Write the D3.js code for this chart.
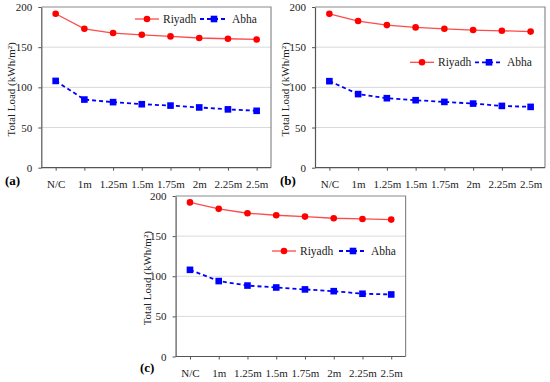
<!DOCTYPE html>
<html>
<head>
<meta charset="utf-8">
<script src="https://cdn.jsdelivr.net/npm/d3@7"></script>
<style>
html,body{margin:0;padding:0;background:#fff;}
svg{display:block;}
</style>
</head>
<body>
<svg id="chart" width="550" height="382"></svg>
<script>
const categories = ["N/C","1m","1.25m","1.5m","1.75m","2m","2.25m","2.5m"];
const yTicks = [0,50,100,150,200];
const seriesNames = ["Riyadh","Abha"];
const riyadhA = [191.6,172.9,167.6,165.4,163.4,161.4,160.5,159.6];
const abhaA   = [108.0,84.8,81.6,79.0,77.3,75.0,72.6,70.8];
const riyadhB = [191.5,182.5,177.5,174.6,172.9,171.3,170.4,169.4];
const abhaB   = [107.7,91.6,86.5,84.0,81.9,79.8,76.9,75.7];
const riyadhC = [192.0,184.0,178.5,176.0,174.3,172.3,171.4,170.6];
const abhaC   = [108.0,94.0,88.4,86.0,83.6,81.4,78.2,77.3];
const panelLabels = ["(a)","(b)","(c)"];

const FONT = "Liberation Serif, DejaVu Serif, Times New Roman, serif";

const panels = [
  {x0:41.3, x1:271, y0:7, y1:167.7, riyadh:riyadhA, abha:abhaA, label:panelLabels[0],
   labelX:5, labelY:185, titleX:11, legY:19, legR:147, legA:214},
  {x0:315, x1:545, y0:7, y1:167.7, riyadh:riyadhB, abha:abhaB, label:panelLabels[1],
   labelX:280, labelY:185, titleX:285, legY:62.3, legR:422, legA:489},
  {x0:175.6, x1:405.6, y0:196, y1:356.5, riyadh:riyadhC, abha:abhaC, label:panelLabels[2],
   labelX:140, labelY:372, titleX:147, legY:251, legR:284, legA:353}
];

const svg = d3.select("#chart").attr("font-family", FONT);
const redLine = "#ff4a4a", redMark = "#ff0000", blue = "#0000ff";

panels.forEach(p => {
  const x = d3.scalePoint().domain(categories).range([p.x0, p.x1]).padding(0.5);
  const y = d3.scaleLinear().domain([0,200]).range([p.y1, p.y0]);
  const g = svg.append("g");

  g.selectAll("line.grid").data(yTicks.filter(t => t>0 && t<200)).enter().append("line")
    .attr("x1", p.x0).attr("x2", p.x1)
    .attr("y1", d => y(d)).attr("y2", d => y(d))
    .attr("stroke", "#d9d9d9").attr("stroke-width", 1);

  g.append("path")
    .attr("d", `M${p.x0},${p.y0}H${p.x1}V${p.y1}`)
    .attr("fill","none").attr("stroke","#8a8a8a").attr("stroke-width",1.2);

  const ya = g.append("g").attr("transform", `translate(${p.x0},0)`)
    .call(d3.axisLeft(y).tickValues(yTicks).tickSize(3).tickPadding(6).tickSizeOuter(0))
    .attr("font-family", FONT).attr("font-size", 11);
  ya.select(".domain").attr("stroke","#555").attr("stroke-width",1.2);
  ya.selectAll(".tick line").attr("stroke","#555");
  ya.selectAll(".tick text").attr("fill","#222");

  const xa = g.append("g").attr("transform", `translate(0,${p.y1})`)
    .call(d3.axisBottom(x).tickSize(3).tickPadding(10).tickSizeOuter(0))
    .attr("font-family", FONT).attr("font-size", 11);
  xa.select(".domain").attr("stroke","#555").attr("stroke-width",1.2)
    .attr("d", `M${p.x0},0H${p.x1}`);
  xa.selectAll(".tick line").attr("stroke","#555");
  xa.selectAll(".tick text").attr("fill","#222");

  const cy = (p.y0 + p.y1) / 2 + 2;
  g.append("text")
    .attr("transform", `translate(${p.titleX},${cy}) rotate(-90)`)
    .attr("text-anchor","middle").attr("dominant-baseline","central")
    .attr("font-family", FONT).attr("font-size", 11).attr("fill","#222")
    .text("Total Load (kWh/m²)");

  g.append("text").attr("x", p.labelX).attr("y", p.labelY)
    .attr("font-family", FONT).attr("font-size", 13).attr("font-weight","bold").attr("fill","#000")
    .text(p.label);

  const line = d3.line().x((d,i) => x(categories[i])).y(d => y(d));

  g.append("path").datum(p.riyadh).attr("d", line)
    .attr("fill","none").attr("stroke", redLine).attr("stroke-width", 1.3);
  g.selectAll("circle.r").data(p.riyadh).enter().append("circle")
    .attr("cx", (d,i) => x(categories[i])).attr("cy", d => y(d)).attr("r", 3.3)
    .attr("fill", redMark);

  g.append("path").datum(p.abha).attr("d", line)
    .attr("fill","none").attr("stroke", blue).attr("stroke-width", 1.8)
    .attr("stroke-dasharray","4,3");
  g.selectAll("rect.a").data(p.abha).enter().append("rect")
    .attr("x", (d,i) => x(categories[i]) - 3.3).attr("y", d => y(d) - 3.3)
    .attr("width", 6.6).attr("height", 6.6).attr("fill", blue);

  const lg = g.append("g").attr("font-family", FONT);
  lg.append("line").attr("x1", p.legR-12).attr("x2", p.legR+12)
    .attr("y1", p.legY).attr("y2", p.legY).attr("stroke", redLine).attr("stroke-width",1.3);
  lg.append("circle").attr("cx", p.legR).attr("cy", p.legY).attr("r",3.3).attr("fill", redMark);
  lg.append("text").attr("x", p.legR+16).attr("y", p.legY).attr("dominant-baseline","central")
    .attr("font-size", 11.5).attr("fill","#222").text(seriesNames[0]);
  lg.append("line").attr("x1", p.legA-14).attr("x2", p.legA+14)
    .attr("y1", p.legY).attr("y2", p.legY).attr("stroke", blue).attr("stroke-width",1.8)
    .attr("stroke-dasharray","4,3");
  lg.append("rect").attr("x", p.legA-3.3).attr("y", p.legY-3.3).attr("width",6.6).attr("height",6.6)
    .attr("fill", blue);
  lg.append("text").attr("x", p.legA+18).attr("y", p.legY).attr("dominant-baseline","central")
    .attr("font-size", 11.5).attr("fill","#222").text(seriesNames[1]);
});
</script>
</body>
</html>
